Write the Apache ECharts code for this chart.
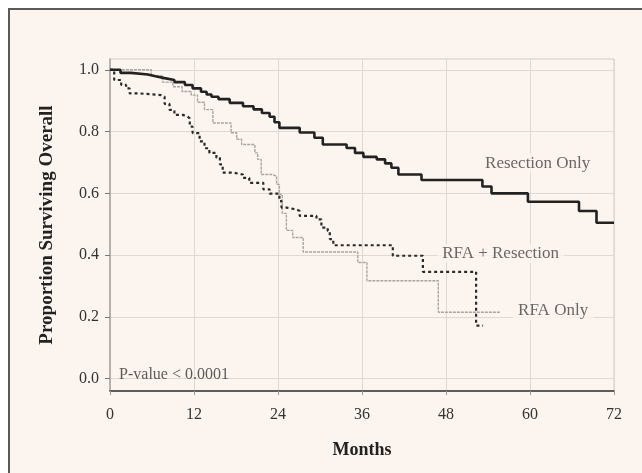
<!DOCTYPE html>
<html>
<head>
<meta charset="utf-8">
<script src="https://cdn.jsdelivr.net/npm/echarts@6/dist/echarts.min.js"></script>
<style>
html,body{margin:0;padding:0;background:#ffffff;overflow:hidden;width:642px;height:473px;}
#frame{position:absolute;left:8px;top:8px;width:680px;height:500px;border-top:2px solid #5a5a5a;border-left:2px solid #5a5a5a;background:#fcf4ef;}
#chart{position:absolute;left:0;top:0;width:642px;height:473px;}
</style>
</head>
<body>
<div id="frame"></div>
<div id="chart"></div>
<script>
// Kaplan-Meier step data (months, proportion surviving)
const resectionT = [0, 1.5, 3, 5.4, 6.5, 7.8, 9.2, 10.7, 11.8, 13, 13.8, 14.5, 15.5, 17.1, 19, 20.5, 21.7, 22.8, 23.5, 24.2, 27.1, 29.2, 30.4, 33.8, 35, 36.2, 38.1, 39.3, 40.2, 41.2, 44.5, 53.2, 54.5, 59.7, 67, 69.5, 72];
const resectionV = [1.0, 0.99, 0.985, 0.979, 0.973, 0.967, 0.96, 0.951, 0.94, 0.929, 0.92, 0.913, 0.905, 0.893, 0.882, 0.872, 0.86, 0.848, 0.83, 0.812, 0.797, 0.78, 0.758, 0.747, 0.731, 0.718, 0.71, 0.697, 0.683, 0.661, 0.643, 0.622, 0.60, 0.573, 0.543, 0.505, 0.505];

const rfaResT = [0, 0.6, 1.6, 2.3, 2.8, 4, 7.3, 7.8, 8.5, 9.2, 10.4, 11.1, 11.4, 11.8, 12.8, 13.5, 14.2, 15.2, 15.7, 16.1, 17.6, 19, 19.9, 21.9, 22.8, 24.2, 24.5, 25.2, 26.6, 27.1, 29.5, 30.2, 31.1, 31.4, 31.9, 40.4, 44.7, 52.3, 53.3];
const rfaResV = [1.0, 0.967, 0.951, 0.94, 0.924, 0.918, 0.913, 0.89, 0.87, 0.854, 0.848, 0.843, 0.816, 0.795, 0.768, 0.746, 0.731, 0.715, 0.694, 0.667, 0.661, 0.65, 0.634, 0.613, 0.599, 0.575, 0.554, 0.548, 0.543, 0.527, 0.516, 0.489, 0.478, 0.452, 0.432, 0.398, 0.346, 0.172, 0.172];

const rfaOnlyT = [0, 5.9, 7.5, 9, 10.3, 11.6, 12.5, 13.5, 14.7, 17.3, 18.1, 18.8, 20.7, 21.1, 21.6, 23.1, 23.8, 24.2, 24.6, 25.2, 26.1, 27.6, 35.4, 36.7, 46.9, 55.7];
const rfaOnlyV = [1.0, 0.98, 0.96, 0.945, 0.93, 0.918, 0.895, 0.871, 0.828, 0.796, 0.775, 0.758, 0.731, 0.71, 0.661, 0.656, 0.629, 0.597, 0.535, 0.48, 0.457, 0.41, 0.376, 0.317, 0.215, 0.215];

const xTicks = [0, 12, 24, 36, 48, 60, 72];
const yTicks = [0, 0.2, 0.4, 0.6, 0.8, 1.0];

const annotations = [
  [61.1, 0.698, 'Resection Only'],
  [55.8, 0.405, 'RFA + Resection'],
  [63.3, 0.219, 'RFA Only']
];
const pValueLabel = [[1.3, 0.012, 'P-value < 0.0001']];

const zip = (t, v) => t.map((x, i) => [x, v[i]]);
const serif = '"Liberation Serif", "DejaVu Serif", serif';
const bg = '#fcf4ef';

const chart = echarts.init(document.getElementById('chart'), null, {renderer: 'canvas'});
chart.setOption({
  backgroundColor: 'transparent',
  animation: false,
  grid: {left: 110, right: 28, top: 59, bottom: 82, show: true, borderColor: '#d2cbc8', borderWidth: 1, backgroundColor: 'transparent'},
  xAxis: {
    type: 'value', min: 0, max: 72, interval: 12,
    name: 'Months', nameLocation: 'middle', nameGap: 50,
    nameTextStyle: {fontFamily: serif, fontWeight: 'bold', fontSize: 18, color: '#222'},
    axisLine: {show: true, onZero: false, lineStyle: {color: '#333', width: 1.5}},
    axisTick: {show: true, length: 4, lineStyle: {color: '#999'}},
    axisLabel: {fontFamily: serif, fontSize: 16, color: '#333', margin: 16},
    splitLine: {show: true, lineStyle: {color: '#e0d8d4', width: 1}}
  },
  yAxis: {
    type: 'value', min: -0.04, max: 1.035,
    name: 'Proportion Surviving Overall', nameLocation: 'middle', nameGap: 53,
    nameTextStyle: {fontFamily: serif, fontWeight: 'bold', fontSize: 19, color: '#222'},
    axisLine: {show: true, lineStyle: {color: '#a9a3a0', width: 1.5}},
    axisTick: {show: true, length: 5, customValues: yTicks, lineStyle: {color: '#777'}},
    axisLabel: {fontFamily: serif, fontSize: 16, color: '#333', margin: 11, customValues: yTicks,
      formatter: v => v.toFixed(1)},
    splitLine: {show: true, lineStyle: {color: '#e0d8d4', width: 1}}
  },
  series: [
    {name: 'RFA Only', type: 'line', step: 'end', showSymbol: false, data: zip(rfaOnlyT, rfaOnlyV),
      lineStyle: {color: '#aaa4a2', width: 1.4, type: [3, 1]}, z: 2},
    {name: 'RFA + Resection', type: 'line', step: 'end', showSymbol: false, data: zip(rfaResT, rfaResV),
      lineStyle: {color: '#2a2a2a', width: 2.2, type: [3, 3]}, z: 3},
    {name: 'Resection Only', type: 'line', step: 'end', showSymbol: false, data: zip(resectionT, resectionV),
      lineStyle: {color: '#222', width: 2.6}, z: 4},
    {name: 'labels', type: 'scatter', symbolSize: 0, data: annotations, z: 5, silent: true,
      label: {show: true, position: 'inside', formatter: p => p.data[2],
        fontFamily: serif, fontSize: 17, color: '#444', backgroundColor: bg, padding: [1, 5]}},
    {name: 'pvalue', type: 'scatter', symbolSize: 0, data: pValueLabel, z: 5, silent: true,
      label: {show: true, position: 'right', distance: 0, formatter: p => p.data[2],
        fontFamily: serif, fontSize: 16, color: '#333'}}
  ]
});
</script>
</body>
</html>
